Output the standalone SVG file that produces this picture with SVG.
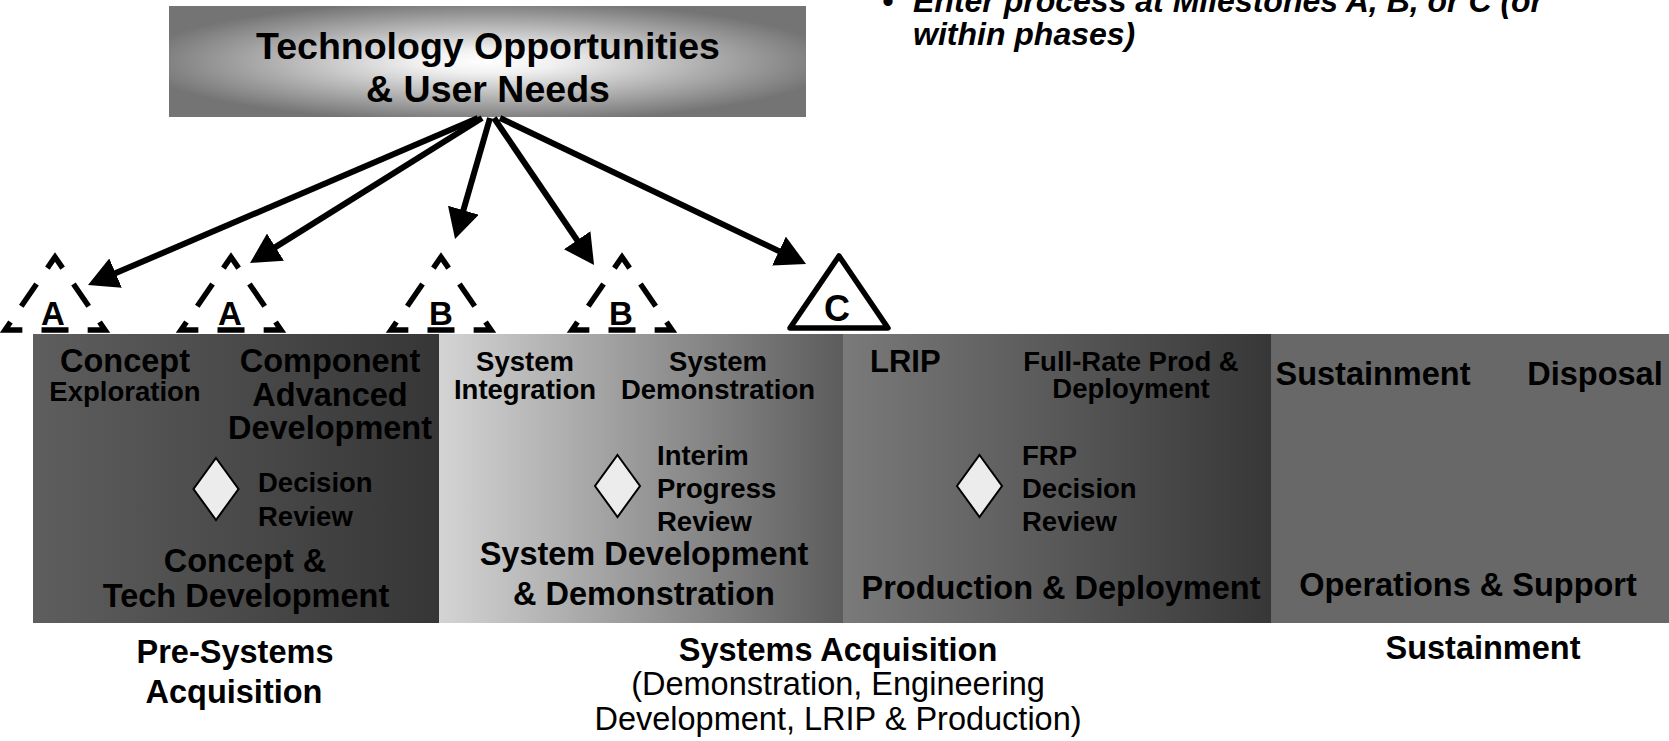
<svg xmlns="http://www.w3.org/2000/svg" width="1669" height="741" viewBox="0 0 1669 741">
<style>
.t{font-family:"Liberation Sans",Arial,sans-serif;font-weight:bold;fill:#000}
.b{font-size:32.5px}
.s{font-size:27.5px}
.m{text-anchor:middle}
.n{font-weight:normal}
.i{font-style:italic;font-size:32px}
.dash{fill:none;stroke:#000;stroke-width:5.5;stroke-dasharray:27 19.16;stroke-dashoffset:13.5;stroke-linejoin:miter}
.solid{fill:#fff;stroke:#000;stroke-width:5.5;stroke-linejoin:round}
.conn{fill:none;stroke:#000;stroke-width:6;marker-end:url(#ah)}
.dia{fill:#ececec;stroke:#000;stroke-width:2}
</style>
<defs>
<radialGradient id="gTop" cx="0.5" cy="0.5" r="0.55">
<stop offset="0" stop-color="#ffffff"/>
<stop offset="0.2" stop-color="#f0f0f0"/>
<stop offset="1" stop-color="#747474"/>
</radialGradient>
<linearGradient id="gP1" x1="0" y1="0" x2="1" y2="0">
<stop offset="0" stop-color="#5e5e5e"/>
<stop offset="1" stop-color="#363636"/>
</linearGradient>
<linearGradient id="gP2" x1="0" y1="0" x2="1" y2="0">
<stop offset="0" stop-color="#d4d4d4"/>
<stop offset="1" stop-color="#5c5c5c"/>
</linearGradient>
<linearGradient id="gP3" x1="0" y1="0" x2="1" y2="0">
<stop offset="0" stop-color="#7a7a7a"/>
<stop offset="1" stop-color="#373737"/>
</linearGradient>
<marker id="ah" markerUnits="userSpaceOnUse" markerWidth="30" markerHeight="32" viewBox="0 0 30 32" refX="10" refY="16" orient="auto">
<path d="M0,0 L30,16 L0,32 z" fill="#000"/>
</marker>
<path id="dtri" class="dash" d="M0,330 L-50,330 L0,257 L50,330 Z"/>
</defs>

<g id="note">
<text class="t i" x="882" y="12">•</text>
<text class="t i" x="913" y="12">Enter process at Milestones A, B, or C (or</text>
<text class="t i" x="913" y="45">within phases)</text>
</g>

<g id="top-box">
<rect x="169" y="6" width="637" height="111" fill="url(#gTop)"/>
<text class="t m" style="font-size:37.5px" x="488" y="59">Technology Opportunities</text>
<text class="t m" style="font-size:37.5px" x="488" y="102">&amp; User Needs</text>
</g>

<g id="phase-ctd">
<rect x="33" y="334" width="406" height="289" fill="url(#gP1)"/>
<text class="t b m" x="125" y="371.5">Concept</text>
<text class="t s m" x="125" y="400.5">Exploration</text>
<text class="t b m" x="330" y="372">Component</text>
<text class="t b m" x="330" y="406">Advanced</text>
<text class="t b m" x="330" y="439">Development</text>
<path class="dia" d="M216,458 L238.5,489 L216,520 L193.5,489 Z"/>
<text class="t s" x="258" y="492">Decision</text>
<text class="t s" x="258" y="525.5">Review</text>
<text class="t b m" x="245" y="572">Concept &amp;</text>
<text class="t b m" x="246" y="606.5">Tech Development</text>
</g>

<g id="phase-sdd">
<rect x="439" y="334" width="404" height="289" fill="url(#gP2)"/>
<text class="t s m" x="525" y="371">System</text>
<text class="t s m" x="525" y="398.5">Integration</text>
<text class="t s m" x="718" y="371">System</text>
<text class="t s m" x="718" y="398.5">Demonstration</text>
<path class="dia" d="M617.5,455 L640,486 L617.5,517 L595,486 Z"/>
<text class="t s" x="657" y="464.5">Interim</text>
<text class="t s" x="657" y="498">Progress</text>
<text class="t s" x="657" y="531">Review</text>
<text class="t b m" x="644" y="565">System Development</text>
<text class="t b m" x="644" y="605">&amp; Demonstration</text>
</g>

<g id="phase-pd">
<rect x="843" y="334" width="428" height="289" fill="url(#gP3)"/>
<text class="t" style="font-size:31px" x="870" y="372">LRIP</text>
<text class="t s m" x="1131" y="370.5">Full-Rate Prod &amp;</text>
<text class="t s m" x="1131" y="397.5">Deployment</text>
<path class="dia" d="M979.5,455 L1002,486 L979.5,517 L957,486 Z"/>
<text class="t s" x="1022" y="464.5">FRP</text>
<text class="t s" x="1022" y="498">Decision</text>
<text class="t s" x="1022" y="531">Review</text>
<text class="t b m" x="1061" y="599">Production &amp; Deployment</text>
</g>

<g id="phase-os">
<rect x="1271" y="334" width="398" height="289" fill="#686868"/>
<text class="t b m" x="1373" y="385">Sustainment</text>
<text class="t b m" x="1595" y="385">Disposal</text>
<text class="t b m" x="1468" y="596">Operations &amp; Support</text>
</g>

<g id="milestone-a1">
<use href="#dtri" transform="translate(55,0)"/>
<text class="t m" style="font-size:33px" x="53" y="325">A</text>
</g>
<g id="milestone-a2">
<use href="#dtri" transform="translate(231,0)"/>
<text class="t m" style="font-size:33px" x="230" y="325">A</text>
</g>
<g id="milestone-b1">
<use href="#dtri" transform="translate(441,0)"/>
<text class="t m" style="font-size:33px" x="441" y="325">B</text>
</g>
<g id="milestone-b2">
<use href="#dtri" transform="translate(622,0)"/>
<text class="t m" style="font-size:33px" x="621" y="325">B</text>
</g>
<g id="milestone-c">
<path class="solid" d="M839,256 L888,328 L790,328 Z"/>
<text class="t m" style="font-size:36px" x="837" y="321">C</text>
</g>

<g id="label-pre">
<text class="t b m" x="235" y="662.5">Pre-Systems</text>
<text class="t b m" x="234" y="703">Acquisition</text>
</g>
<g id="label-sa">
<text class="t b m" x="838" y="660.5">Systems Acquisition</text>
<text class="t b m n" x="838" y="694.5">(Demonstration, Engineering</text>
<text class="t b m n" x="838" y="730">Development, LRIP &amp; Production)</text>
</g>
<g id="label-sus">
<text class="t b m" x="1483" y="659">Sustainment</text>
</g>

<g id="connectors">
<line class="conn" x1="478" y1="118" x2="106.4" y2="277.1"/>
<line class="conn" x1="482" y1="118" x2="267" y2="252.4"/>
<line class="conn" x1="490" y1="118" x2="460.6" y2="219.8"/>
<line class="conn" x1="494" y1="118" x2="582.8" y2="248.5"/>
<line class="conn" x1="500" y1="118" x2="788" y2="255.4"/>
</g>
</svg>
